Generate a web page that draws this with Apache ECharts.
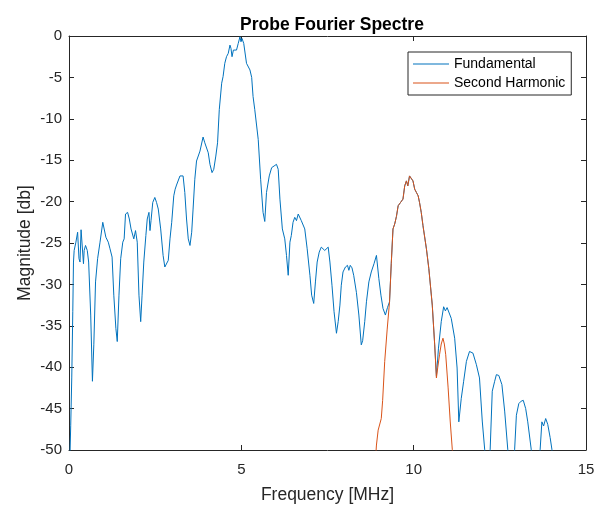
<!DOCTYPE html>
<html>
<head>
<meta charset="utf-8">
<script src="https://cdn.jsdelivr.net/npm/echarts@6/dist/echarts.min.js"></script>
<style>html,body{margin:0;padding:0;background:#fff;}#c{width:604px;height:509px;}</style>
</head>
<body>
<div id="c"></div>
<script>
const fundFreq = [0.02,0.05,0.08,0.11,0.13,0.15,0.20,0.25,0.29,0.32,0.35,0.38,0.42,0.44,0.48,0.53,0.57,0.63,0.68,0.72,0.77,0.83,0.90,0.98,1.02,1.07,1.14,1.19,1.25,1.30,1.36,1.40,1.45,1.50,1.56,1.60,1.64,1.70,1.75,1.80,1.84,1.88,1.93,1.98,2.03,2.08,2.12,2.17,2.23,2.27,2.32,2.35,2.38,2.43,2.49,2.54,2.59,2.66,2.73,2.78,2.83,2.88,2.93,2.98,3.04,3.08,3.12,3.17,3.22,3.27,3.31,3.36,3.41,3.46,3.51,3.56,3.60,3.65,3.70,3.75,3.80,3.85,3.89,3.94,3.99,4.04,4.09,4.15,4.20,4.26,4.31,4.36,4.43,4.47,4.52,4.57,4.62,4.67,4.70,4.73,4.77,4.81,4.86,4.91,4.96,4.99,5.02,5.07,5.11,5.15,5.20,5.25,5.30,5.34,5.39,5.43,5.49,5.56,5.63,5.68,5.73,5.81,5.88,5.95,6.02,6.07,6.12,6.15,6.19,6.26,6.31,6.36,6.41,6.45,6.50,6.55,6.60,6.65,6.70,6.74,6.79,6.84,6.91,6.99,7.04,7.10,7.15,7.20,7.26,7.32,7.37,7.42,7.47,7.52,7.57,7.63,7.69,7.76,7.81,7.86,7.90,7.95,8.02,8.08,8.12,8.16,8.21,8.26,8.34,8.41,8.48,8.52,8.58,8.63,8.70,8.77,8.85,8.92,8.99,9.05,9.11,9.18,9.24,9.30,9.35,9.40,9.45,9.50,9.55,9.62,9.69,9.74,9.79,9.83,9.88,9.93,9.98,10.03,10.08,10.13,10.17,10.22,10.27,10.37,10.44,10.49,10.54,10.61,10.66,10.72,10.80,10.87,10.92,10.97,11.02,11.09,11.19,11.26,11.31,11.38,11.45,11.53,11.62,11.72,11.82,11.91,11.99,12.06,12.10,12.19,12.22,12.28,12.35,12.40,12.47,12.56,12.64,12.73,12.77,12.90,12.93,12.98,13.05,13.12,13.18,13.25,13.31,13.41,13.45,13.63,13.67,13.72,13.77,13.83,13.89,13.96,14.01,14.05];
const fundMag = [-52,-47,-41.3,-33.3,-27.3,-25.9,-24.9,-23.7,-26.9,-27.3,-23.4,-23.2,-27.5,-25.9,-25.3,-25.9,-27.3,-33.7,-41.7,-37.3,-29.7,-26.9,-24.9,-22.5,-22.7,-24.3,-24.9,-25.7,-26.7,-31.3,-35.3,-36.9,-31.3,-26.9,-24.9,-24.5,-21.5,-21.3,-22.1,-23.3,-23.5,-24.5,-23.5,-24.9,-31.3,-34.5,-31.3,-27.3,-24.1,-22.1,-21.3,-23.5,-22.3,-20.1,-19.5,-20.1,-20.9,-23.3,-26.5,-27.9,-27.7,-27.1,-24.5,-22.5,-19.3,-18.5,-18.0,-18.1,-16.9,-16.7,-16.9,-18.9,-22.1,-24.5,-25.3,-23.7,-20.9,-17.3,-15.1,-14.9,-13.9,-13.7,-12.2,-12.9,-13.1,-14.1,-15.5,-16.5,-16.1,-14.5,-12.9,-8.9,-5.7,-4.9,-3.3,-2.5,-2.1,-1.1,-1.5,-2.5,-1.7,-1.5,-1.7,-0.9,-0.1,-0.7,-0.3,-0.9,-0.7,-3.3,-3.5,-4.1,-5.0,-7.3,-8.9,-9.1,-12.5,-17.3,-21.3,-22.4,-18.9,-16.9,-15.9,-15.7,-15.5,-16.1,-19.7,-19.9,-23.3,-24.5,-26.5,-28.9,-24.9,-24.1,-22.5,-21.9,-22.3,-21.5,-21.3,-22.3,-22.5,-23.3,-25.7,-28.9,-31.3,-32.3,-29.7,-27.3,-26.1,-25.5,-25.3,-25.9,-26.1,-25.5,-27.3,-30.1,-33.3,-35.9,-34.5,-32.5,-30.1,-28.5,-27.9,-27.7,-28.3,-27.7,-28.0,-28.9,-31.0,-33.7,-37.3,-36.8,-34.5,-32.1,-29.7,-28.5,-27.5,-26.5,-29.3,-31.3,-32.9,-33.7,-32.8,-32.1,-27.5,-23.3,-22.7,-21.8,-20.5,-20.1,-19.7,-18.1,-17.5,-18.1,-16.9,-16.8,-17.5,-18.5,-18.9,-19.3,-20.1,-21.3,-22.9,-25.7,-28.1,-30.3,-32.5,-37.3,-41.1,-37.7,-34.5,-32.7,-33.2,-32.8,-32.6,-34.1,-36.5,-40.1,-46.6,-43.8,-41.7,-39.3,-38.1,-38.3,-39.7,-41.3,-46.5,-49.9,-53,-53,-49.9,-42.9,-41.7,-40.9,-41.0,-42.1,-45.3,-49.9,-53,-53,-49.9,-45.8,-44.4,-44.1,-44.0,-45.0,-46.6,-49.9,-53,-53,-49.9,-46.6,-47.1,-46.2,-46.9,-48.5,-49.9,-53];

const harmFreq = [8.88,8.92,8.97,9.06,9.10,9.16,9.23,9.30,9.35,9.40,9.45,9.50,9.55,9.62,9.69,9.74,9.79,9.83,9.88,9.93,9.98,10.03,10.08,10.13,10.17,10.22,10.27,10.37,10.44,10.49,10.54,10.61,10.66,10.70,10.75,10.80,10.85,10.89,10.93,11.00,11.06,11.12,11.15];
const harmMag = [-52,-49.4,-47.6,-46.2,-44.0,-39.3,-35.5,-32.1,-27.5,-23.3,-22.7,-21.8,-20.5,-20.1,-19.7,-18.1,-17.5,-18.1,-16.9,-16.8,-17.5,-18.5,-18.9,-19.3,-20.1,-21.3,-22.9,-25.7,-28.1,-30.3,-32.5,-37.3,-41.3,-40.0,-38.5,-37.2,-36.5,-37.2,-38.5,-42.5,-46.5,-49.9,-52];

const xTicks = {min: 0, max: 15, interval: 5};
const yTicks = {min: -50, max: 0, interval: 5};
const seriesNames = ['Fundamental', 'Second Harmonic'];

const pair = (xs, ys) => xs.map((x, i) => [x, ys[i]]);
const FONT = 'Liberation Sans, Arial, Helvetica, sans-serif';
const AX = '#262626';

const chart = echarts.init(document.getElementById('c'), null, {renderer: 'canvas'});
const baseAxis = {
  axisLine: {show: true, onZero: false, lineStyle: {color: AX, width: 1}},
  axisTick: {show: true, inside: true, length: 5, lineStyle: {color: AX}},
  splitLine: {show: false}
};
chart.setOption({
  animation: false,
  backgroundColor: '#fff',
  title: {
    text: 'Probe Fourier Spectre', left: 327, textAlign: 'center', top: 11,
    textStyle: {fontFamily: FONT, fontSize: 17.5, fontWeight: 'bold', color: '#000'}
  },
  grid: {left: 69, right: 18, top: 36, bottom: 57, containLabel: false},
  legend: {
    data: seriesNames.map(n => ({name: n, icon: 'rect'})), orient: 'vertical', left: 408, top: 52,
    padding: [5, 6, 5, 5], itemGap: 5, itemWidth: 36, itemHeight: 1.2,
    borderColor: AX, borderWidth: 1, backgroundColor: '#fff',
    textStyle: {fontFamily: FONT, fontSize: 14, color: '#000', lineHeight: 14, height: 14}
  },
  xAxis: [
    Object.assign({}, baseAxis, {
      type: 'value', min: xTicks.min, max: xTicks.max, interval: xTicks.interval, position: 'bottom',
      name: 'Frequency [MHz]', nameLocation: 'middle', nameGap: 36, nameMoveOverlap: false,
      nameTextStyle: {fontFamily: FONT, fontSize: 17.5, color: AX},
      axisLabel: {margin: 12, fontFamily: FONT, fontSize: 15, color: AX}
    }),
    Object.assign({}, baseAxis, {
      type: 'value', min: xTicks.min, max: xTicks.max, interval: xTicks.interval, position: 'top',
      axisLabel: {show: false}
    })
  ],
  yAxis: [
    Object.assign({}, baseAxis, {
      type: 'value', min: yTicks.min, max: yTicks.max, interval: yTicks.interval, position: 'left',
      name: 'Magnitude [db]', nameLocation: 'middle', nameGap: 35, nameMoveOverlap: false,
      nameTextStyle: {fontFamily: FONT, fontSize: 17.5, color: AX},
      axisLabel: {margin: 7, fontFamily: FONT, fontSize: 15, color: AX}
    }),
    Object.assign({}, baseAxis, {
      type: 'value', min: yTicks.min, max: yTicks.max, interval: yTicks.interval, position: 'right',
      axisLabel: {show: false}
    })
  ],
  series: [
    {
      name: seriesNames[0], type: 'line', data: pair(fundFreq, fundMag),
      showSymbol: false, symbol: 'none', clip: true,
      lineStyle: {color: '#0072BD', width: 1}, itemStyle: {color: '#0072BD'}
    },
    {
      name: seriesNames[1], type: 'line', data: pair(harmFreq, harmMag),
      showSymbol: false, symbol: 'none', clip: true,
      lineStyle: {color: '#D95319', width: 1}, itemStyle: {color: '#D95319'}
    }
  ]
});
</script>
</body>
</html>
